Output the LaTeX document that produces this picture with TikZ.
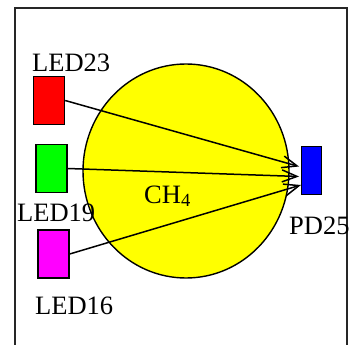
\documentclass[tikz,border=0pt]{standalone}
\usepackage{fontspec}
\setmainfont{Liberation Serif}
\usepackage{tikz}
\usetikzlibrary{arrows.meta}
\usetikzlibrary{shapes.geometric}
\definecolor{ledred}{RGB}{255,0,0}
\definecolor{ledgreen}{RGB}{0,255,0}
\definecolor{ledmagenta}{RGB}{255,0,255}
\definecolor{pdblue}{RGB}{0,0,255}
\definecolor{gasyellow}{RGB}{255,255,0}
\tikzset{led/.style={rectangle,draw,line width=1.4pt,minimum width=31pt,minimum height=48pt,inner sep=0pt}}
\tikzset{beam/.style={line width=1.5pt,-{Straight Barb[length=15pt,width=12pt,line width=1.5pt]}}}
\tikzset{lbl/.style={anchor=base west,inner sep=0pt,font=\fontsize{26.5}{30}\selectfont}}
\tikzset{gas/.style={ellipse,draw,fill=gasyellow,line width=1.4pt,minimum width=206pt,minimum height=214pt,inner sep=0pt}}

\begin{document}
\begin{tikzpicture}[x=1pt,y=-1pt]
    \useasboundingbox (0,0) rectangle (351,345);
    \draw[line width=1.6pt,black!85] (15,345) -- (15,8) -- (347,8) -- (347,345);
    \node[gas] (cell) at (186,171) {};
    \node[lbl] (gasname) at (144,203) {CH\textsubscript{4}};
    \node[led,fill=ledred] (led23) at (49,100.5) {};
    \node[led,fill=ledgreen] (led19) at (51.5,168.5) {};
    \node[led,fill=ledmagenta] (led16) at (53.5,254) {};
    \node[led,fill=pdblue,minimum width=20pt] (pd25) at (311.5,170.5) {};
    \node[lbl] (name23) at (32,72) {LED23};
    \node[lbl] (name19) at (17,221) {LED19};
    \node[lbl] (name16) at (35,314) {LED16};
    \node[lbl] (namepd) at (289,234) {PD25};
    \coordinate (t23) at (299,166.5);
    \coordinate (t19) at (299,176.5);
    \coordinate (t16) at (301,185);
    \draw[beam] (led23.east) -- (t23);
    \draw[beam] (led19.east) -- (t19);
    \draw[beam] (led16.east) -- (t16);
\end{tikzpicture}
\end{document}
